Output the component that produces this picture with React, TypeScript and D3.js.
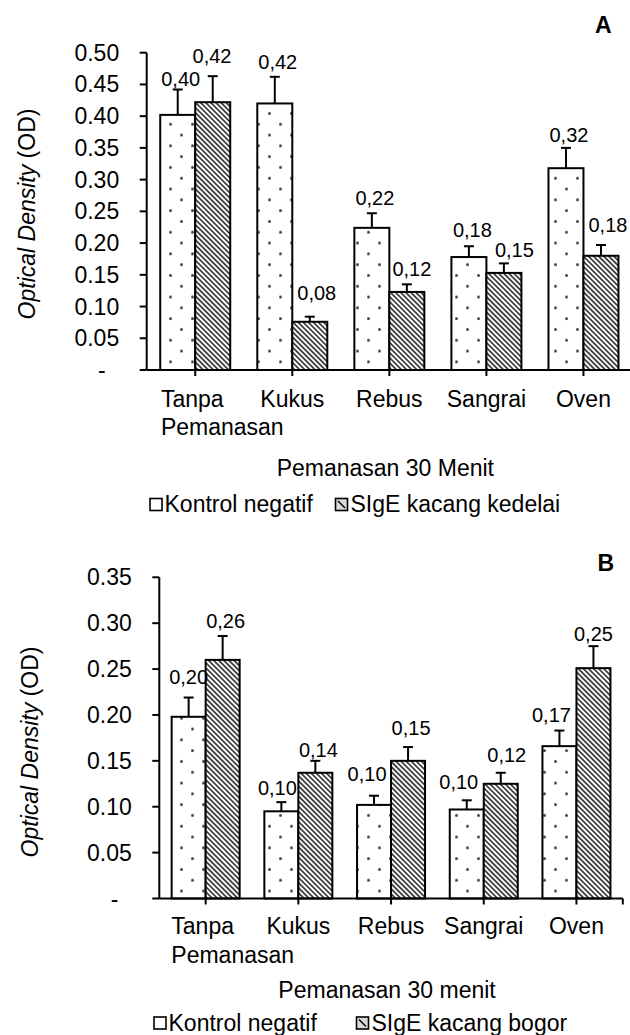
import React from "react";
import * as d3 from "d3";

const FONT = "'Liberation Sans', Arial, Helvetica, sans-serif";

const categories = ["Tanpa Pemanasan", "Kukus", "Rebus", "Sangrai", "Oven"];

// Panel A
const seriesA = ["Kontrol negatif", "SIgE kacang kedelai"];
const kontrolA = [0.402, 0.42, 0.224, 0.178, 0.318];
const kontrolErrA = [0.04, 0.042, 0.023, 0.017, 0.032];
const sigeA = [0.422, 0.076, 0.123, 0.153, 0.18];
const sigeErrA = [0.041, 0.008, 0.012, 0.015, 0.017];
const kontrolLabelsA = ["0,40", "0,42", "0,22", "0,18", "0,32"];
const sigeLabelsA = ["0,42", "0,08", "0,12", "0,15", "0,18"];
const yTicksA = [0, 0.05, 0.1, 0.15, 0.2, 0.25, 0.3, 0.35, 0.4, 0.45, 0.5];
const xTitleA = "Pemanasan 30 Menit";

// Panel B
const seriesB = ["Kontrol negatif", "SIgE kacang bogor"];
const kontrolB = [0.198, 0.095, 0.102, 0.097, 0.166];
const kontrolErrB = [0.021, 0.01, 0.01, 0.01, 0.017];
const sigeB = [0.26, 0.137, 0.15, 0.125, 0.251];
const sigeErrB = [0.026, 0.013, 0.015, 0.012, 0.024];
const kontrolLabelsB = ["0,20", "0,10", "0,10", "0,10", "0,17"];
const sigeLabelsB = ["0,26", "0,14", "0,15", "0,12", "0,25"];
const yTicksB = [0, 0.05, 0.1, 0.15, 0.2, 0.25, 0.3, 0.35];
const xTitleB = "Pemanasan 30 menit";

// label placement nudges (layout only): [dx, gap above error cap]
const nudgeA = {
  k: [[3, 4], [3, 8], [3, 8], [3.5, 9], [3, 6]],
  s: [[-0.7, 13], [7, 17], [5, 8], [10.5, 6], [7, 13]],
};
const nudgeB = {
  k: [[0, 14], [-4, 7], [-7, 15], [-8, 11], [-8, 9]],
  s: [[3, 8], [3, 4], [3, 12], [6, 11], [0, 5]],
};

let measureCtx: CanvasRenderingContext2D | null = null;
function textWidth(t: string, size: number) {
  if (!measureCtx) {
    const c = document.createElement("canvas");
    measureCtx = c.getContext("2d");
  }
  if (!measureCtx) return t.length * size * 0.55;
  measureCtx.font = `${size}px ${FONT}`;
  return measureCtx.measureText(t).width;
}

type Layout = {
  left: number;
  right: number;
  top: number;
  bottom: number;
  yMax: number;
  barW: number;
  yTitleX: number;
  yTitleY: number;
  catY: number;
  titleY: number;
  legendY: number;
  legendBox: [number, number];
  letter: string;
  letterX: number;
  letterY: number;
};

type PanelProps = {
  layout: Layout;
  series: string[];
  kontrol: number[];
  kontrolErr: number[];
  sige: number[];
  sigeErr: number[];
  kLabels: string[];
  sLabels: string[];
  yTicks: number[];
  xTitle: string;
  nudge: { k: number[][]; s: number[][] };
};

function Panel(p: PanelProps) {
  const L = p.layout;
  const x = d3.scaleBand<string>().domain(categories).range([L.left, L.right]).padding(0);
  const bw = x.bandwidth();
  const xs = d3
    .scaleBand<string>()
    .domain(p.series)
    .range([bw / 2 - L.barW, bw / 2 + L.barW])
    .padding(0);
  const y = d3.scaleLinear().domain([0, L.yMax]).range([L.bottom, L.top]);
  const fmt = d3.format(".2f");
  const values = [p.kontrol, p.sige];
  const errs = [p.kontrolErr, p.sigeErr];
  const labels = [p.kLabels, p.sLabels];
  const nud = [p.nudge.k, p.nudge.s];
  const fills = ["url(#dots)", "url(#hatch)"];
  const catSize = 23;

  return (
    <g>
      {p.series.map((s, si) =>
        categories.map((c, ci) => {
          const v = values[si][ci];
          const bx = (x(c) as number) + (xs(s) as number);
          const w = xs.bandwidth();
          return (
            <rect
              key={`b${si}-${ci}`}
              x={bx}
              y={y(v)}
              width={w}
              height={y(0) - y(v)}
              fill={fills[si]}
              stroke="#000"
              strokeWidth={2}
            />
          );
        })
      )}
      {p.series.map((s, si) =>
        categories.map((c, ci) => {
          const v = values[si][ci];
          const e = errs[si][ci];
          const cx = (x(c) as number) + (xs(s) as number) + xs.bandwidth() / 2;
          return (
            <g key={`e${si}-${ci}`} stroke="#000" strokeWidth={2}>
              <line x1={cx} x2={cx} y1={y(v)} y2={y(v + e)} />
              <line x1={cx - 5} x2={cx + 5} y1={y(v + e)} y2={y(v + e)} />
            </g>
          );
        })
      )}
      {p.series.map((s, si) =>
        categories.map((c, ci) => {
          const v = values[si][ci];
          const e = errs[si][ci];
          const cx = (x(c) as number) + (xs(s) as number) + xs.bandwidth() / 2;
          const [dx, gap] = nud[si][ci];
          return (
            <text
              key={`l${si}-${ci}`}
              x={cx + dx}
              y={y(v + e) - gap}
              textAnchor="middle"
              fontSize={20}
              fontFamily={FONT}
              fill="#000"
            >
              {labels[si][ci]}
            </text>
          );
        })
      )}
      <line x1={L.left} x2={L.left} y1={L.top} y2={L.bottom} stroke="#000" strokeWidth={2} />
      {p.yTicks.map((t) => (
        <g key={`yt${t}`}>
          <line x1={L.left - 7} x2={L.left} y1={y(t)} y2={y(t)} stroke="#000" strokeWidth={2} />
          <text
            x={t === 0 ? L.left - 41 : L.left - 27.5}
            y={y(t)}
            dy="0.35em"
            textAnchor="end"
            fontSize={23}
            fontFamily={FONT}
            fill="#000"
          >
            {t === 0 ? "-" : fmt(t)}
          </text>
        </g>
      ))}
      <line x1={L.left} x2={L.right} y1={L.bottom} y2={L.bottom} stroke="#000" strokeWidth={2} />
      {categories.map((c) => (
        <line
          key={`xt${c}`}
          x1={(x(c) as number) + bw / 2}
          x2={(x(c) as number) + bw / 2}
          y1={L.bottom}
          y2={L.bottom + 6}
          stroke="#000"
          strokeWidth={2}
        />
      ))}
      <line x1={L.right} x2={L.right} y1={L.bottom} y2={L.bottom + 6} stroke="#000" strokeWidth={2} />
      {categories.map((c) => {
        const cx = (x(c) as number) + bw / 2;
        const lines = c.split(" ");
        const w0 = textWidth(lines[0], catSize);
        return (
          <g key={`cl${c}`} fontSize={catSize} fontFamily={FONT} fill="#000">
            {lines.map((ln, i) =>
              i === 0 ? (
                <text key={i} x={lines.length > 1 ? cx - w0 / 2 - 3 : cx} y={L.catY} textAnchor={lines.length > 1 ? "start" : "middle"}>
                  {ln}
                </text>
              ) : (
                <text key={i} x={cx - w0 / 2 - 3} y={L.catY + 28.3 * i} textAnchor="start">
                  {ln}
                </text>
              )
            )}
          </g>
        );
      })}
      <text
        x={(L.left + L.right) / 2 - 4}
        y={L.titleY}
        textAnchor="middle"
        fontSize={23}
        fontFamily={FONT}
        fill="#000"
      >
        {p.xTitle}
      </text>
      <text
        transform={`translate(${L.yTitleX},${L.yTitleY}) rotate(-90)`}
        textAnchor="middle"
        dy="0.35em"
        fontSize={23}
        fontFamily={FONT}
        fill="#000"
      >
        <tspan fontStyle="italic">Optical Density</tspan>
        <tspan> (OD)</tspan>
      </text>
      <g fontSize={23} fontFamily={FONT} fill="#000">
        <rect
          x={L.legendBox[0]}
          y={L.legendY - 13.5}
          width={12}
          height={12}
          fill="#fff"
          stroke="#000"
          strokeWidth={1.6}
        />
        <text x={L.legendBox[0] + 14.5} y={L.legendY}>
          {p.series[0]}
        </text>
        <rect
          x={L.legendBox[1]}
          y={L.legendY - 13.5}
          width={12}
          height={12}
          fill="#d9d9d9"
          stroke="#000"
          strokeWidth={1.6}
        />
        <line
          x1={L.legendBox[1] + 2.5}
          y1={L.legendY - 11}
          x2={L.legendBox[1] + 9.5}
          y2={L.legendY - 4}
          stroke="#000"
          strokeWidth={1.4}
        />
        <text x={L.legendBox[1] + 15} y={L.legendY}>
          {p.series[1]}
        </text>
      </g>
      <text
        x={L.letterX}
        y={L.letterY}
        fontSize={23}
        fontWeight="bold"
        fontFamily={FONT}
        fill="#000"
      >
        {L.letter}
      </text>
    </g>
  );
}

const layoutA: Layout = {
  left: 146.7,
  right: 632,
  top: 52.7,
  bottom: 370,
  yMax: 0.5,
  barW: 35,
  yTitleX: 27,
  yTitleY: 214,
  catY: 406.7,
  titleY: 476,
  legendY: 512,
  legendBox: [150, 335.5],
  letter: "A",
  letterX: 595,
  letterY: 33.3,
};

const layoutB: Layout = {
  left: 159.3,
  right: 622.8,
  top: 577.3,
  bottom: 898.5,
  yMax: 0.35,
  barW: 34,
  yTitleX: 30,
  yTitleY: 752,
  catY: 934.3,
  titleY: 998.3,
  legendY: 1030.5,
  legendBox: [154, 356.5],
  letter: "B",
  letterX: 597.5,
  letterY: 570.7,
};

export default function App() {
  return (
    <div style={{ position: "absolute", left: 0, top: 0 }}>
      <svg width={630} height={1035} style={{ display: "block", background: "#fff" }}>
        <defs>
          <pattern id="dots" patternUnits="userSpaceOnUse" width={22} height={21.6}>
            <rect width={22} height={21.6} fill="#fff" />
            <circle cx={5.5} cy={5.4} r={1.5} fill="#444" />
            <circle cx={16.5} cy={16.2} r={1.5} fill="#444" />
          </pattern>
          <pattern
            id="hatch"
            patternUnits="userSpaceOnUse"
            width={3.6}
            height={10}
            patternTransform="rotate(-45)"
          >
            <rect width={3.6} height={10} fill="#fff" />
            <line x1={0.9} x2={0.9} y1={0} y2={10} stroke="#2a2a2a" strokeWidth={1.6} />
          </pattern>
        </defs>
        <Panel
          layout={layoutA}
          series={seriesA}
          kontrol={kontrolA}
          kontrolErr={kontrolErrA}
          sige={sigeA}
          sigeErr={sigeErrA}
          kLabels={kontrolLabelsA}
          sLabels={sigeLabelsA}
          yTicks={yTicksA}
          xTitle={xTitleA}
          nudge={nudgeA}
        />
        <Panel
          layout={layoutB}
          series={seriesB}
          kontrol={kontrolB}
          kontrolErr={kontrolErrB}
          sige={sigeB}
          sigeErr={sigeErrB}
          kLabels={kontrolLabelsB}
          sLabels={sigeLabelsB}
          yTicks={yTicksB}
          xTitle={xTitleB}
          nudge={nudgeB}
        />
      </svg>
    </div>
  );
}
